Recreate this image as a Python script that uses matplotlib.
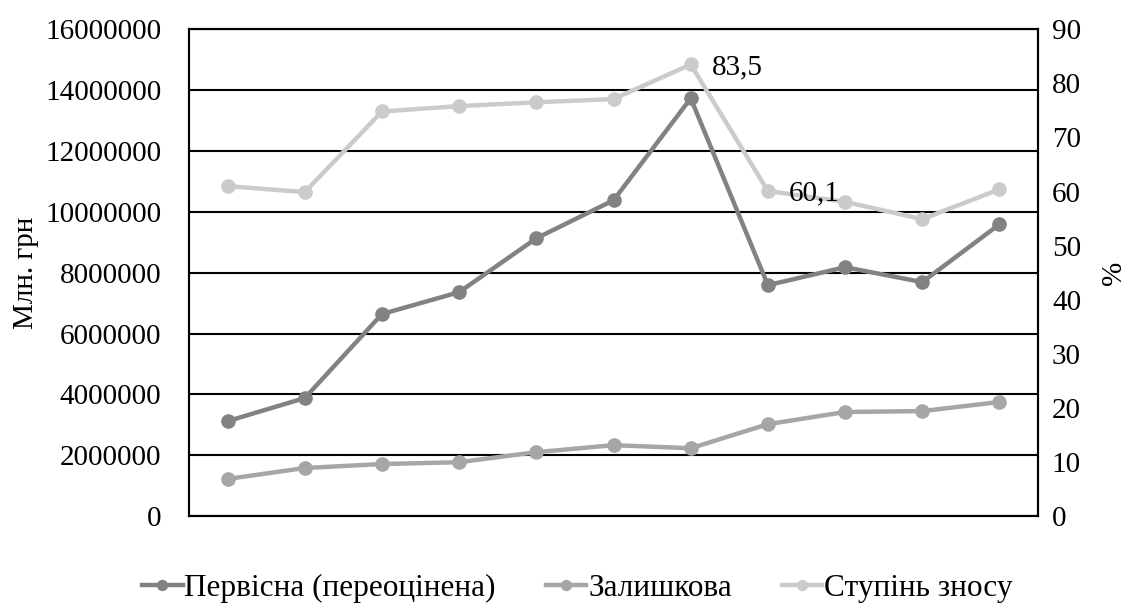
import matplotlib
matplotlib.use("Agg")
import matplotlib.pyplot as plt

plt.rcParams['font.family'] = ['Liberation Serif', 'DejaVu Serif']

categories = list(range(1, 12))
pervisna = [3120000, 3880000, 6640000, 7360000, 9130000, 10380000, 13730000, 7590000, 8180000, 7690000, 9590000]
zalyshkova = [1220000, 1580000, 1710000, 1770000, 2100000, 2330000, 2230000, 3020000, 3420000, 3450000, 3750000]
znos = [61.0, 59.9, 74.8, 75.8, 76.5, 77.1, 83.5, 60.1, 58.1, 54.9, 60.4]
left_ticks = [0, 2000000, 4000000, 6000000, 8000000, 10000000, 12000000, 14000000, 16000000]
right_ticks = [0, 10, 20, 30, 40, 50, 60, 70, 80, 90]
labels = ['Первісна (переоцінена)', 'Залишкова', 'Ступінь зносу']
annot_idx = [6, 7]

c_dark = '#828282'
c_mid = '#a6a6a6'
c_light = '#cbcbcb'

fig = plt.figure(figsize=(11.32, 6.10), dpi=100)
ax = fig.add_axes([0.167, 0.154, 0.750, 0.798])
ax2 = ax.twinx()

x = list(range(len(categories)))
l1, = ax.plot(x, pervisna, color=c_dark, lw=3.2, marker='o', ms=9.5, label=labels[0], zorder=3)
l2, = ax.plot(x, zalyshkova, color=c_mid, lw=3.2, marker='o', ms=9.5, label=labels[1], zorder=3)
l3, = ax2.plot(x, znos, color=c_light, lw=3.2, marker='o', ms=9.5, label=labels[2], zorder=3)

ax.set_xlim(-0.5, len(categories) - 0.5)
ax.set_ylim(0, 16000000)
ax2.set_ylim(0, 90)
ax.set_yticks(left_ticks)
ax.set_yticklabels([str(v) for v in left_ticks])
ax2.set_yticks(right_ticks)
ax.set_xticks([])
ax.grid(axis='y', color='black', lw=1.5)
ax.set_axisbelow(True)
for a in (ax, ax2):
    for s in a.spines.values():
        s.set_color('black')
        s.set_linewidth(1.5)
ax.tick_params(axis='y', length=0, labelsize=21, pad=20)
ax2.tick_params(axis='y', length=0, labelsize=21, pad=10)
ax.set_ylabel('Млн. грн', fontsize=21, labelpad=4)
ax2.set_ylabel('%', fontsize=21, labelpad=14)

for i in annot_idx:
    ax2.annotate(f"{znos[i]:.1f}".replace('.', ','), (x[i], znos[i]),
                 xytext=(15, -2), textcoords='offset points', fontsize=21,
                 va='center', ha='left')

fig.legend(handles=[l1, l2, l3], loc='lower center', bbox_to_anchor=(0.51, -0.035),
           ncol=3, frameon=False, fontsize=22.5, handlelength=1.3, handletextpad=0.05,
           columnspacing=1.6, markerscale=0.75)

fig.savefig('out.png', dpi=100)
